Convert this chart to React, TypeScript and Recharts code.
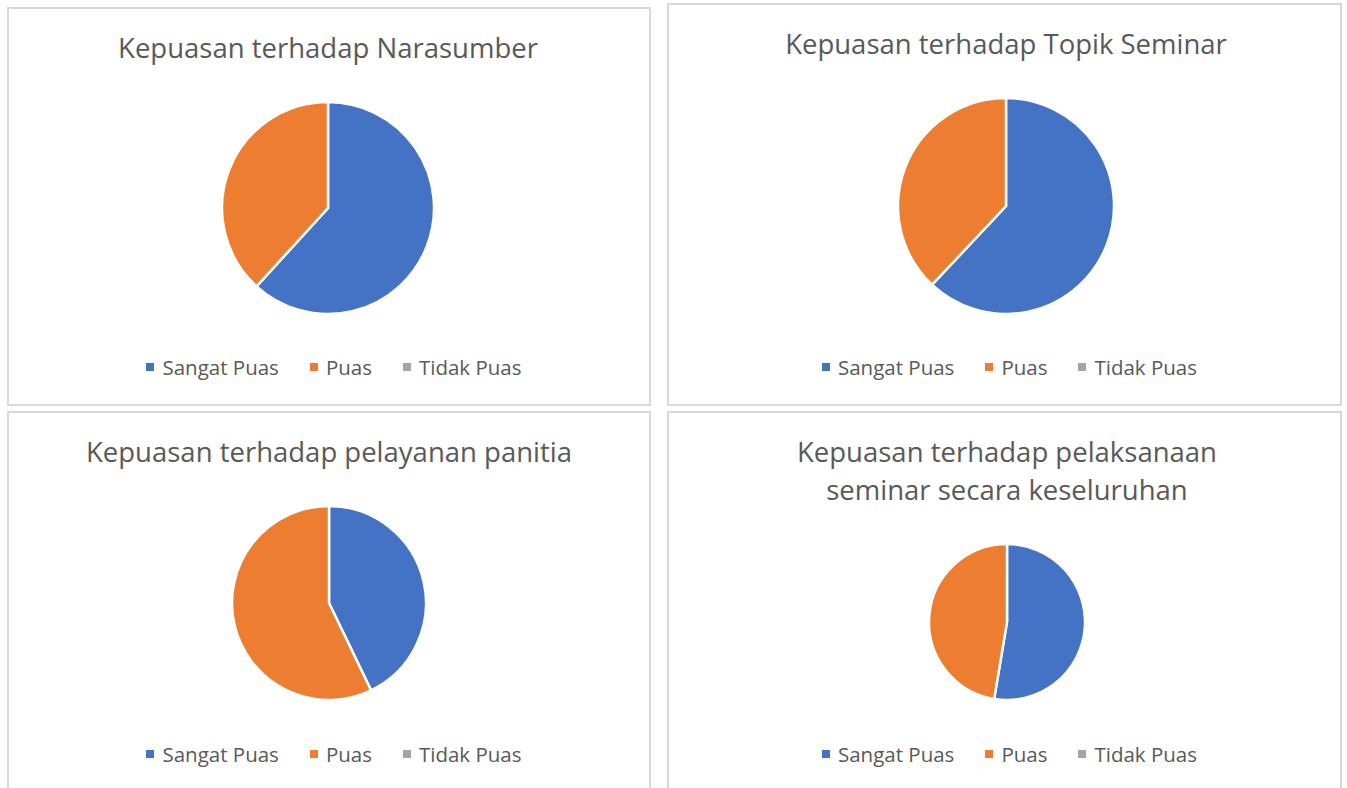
import { PieChart, Pie, Cell, Legend } from 'recharts';

const categories = ['Sangat Puas', 'Puas', 'Tidak Puas'];
const colors = ['#4472C4', '#ED7D31', '#A5A5A5'];

const narasumberValues = [21, 13, 0];
const topikValues = [31, 19, 0];
const panitiaValues = [15, 20, 0];
const pelaksanaanValues = [20, 18, 0];

const titles = [
  ['Kepuasan terhadap Narasumber'],
  ['Kepuasan terhadap Topik Seminar'],
  ['Kepuasan terhadap pelayanan panitia'],
  ['Kepuasan terhadap pelaksanaan', 'seminar secara keseluruhan'],
];

const FONT = '"Open Sans", "Noto Sans", sans-serif';
const TEXT = '#595959';

const toRows = (values: number[]) =>
  categories.map((name, i) => ({ name, value: values[i] }));

interface PanelProps {
  left: number;
  top: number;
  width: number;
  height: number;
  title: string[];
  titleTop: number;
  values: number[];
  cx: number;
  cy: number;
  r: number;
  legendTop: number;
}

const LegendRow = (props: any) => {
  // keep the series order instead of the default alphabetical one
  const items = [...(props.payload || [])].sort(
    (a: any, b: any) => categories.indexOf(a.value) - categories.indexOf(b.value)
  );
  return (
    <div
      style={{
        display: 'flex',
        justifyContent: 'center',
        fontFamily: FONT,
        fontSize: 20.5,
        color: TEXT,
        lineHeight: '26px',
        paddingLeft: 10,
      }}
    >
      {items.map((it: any, i: number) => (
        <div
          key={i}
          style={{ display: 'flex', alignItems: 'center', marginRight: i < items.length - 1 ? 31 : 0 }}
        >
          <span
            style={{ width: 8, height: 8, background: it.color, marginRight: 8, display: 'inline-block' }}
          />
          <span>{it.value}</span>
        </div>
      ))}
    </div>
  );
};

const Panel: React.FC<PanelProps> = (p) => (
  <div
    style={{
      position: 'absolute',
      left: p.left,
      top: p.top,
      width: p.width,
      height: p.height,
      boxSizing: 'border-box',
      border: '2px solid #d9d9d9',
      background: '#fff',
    }}
  >
    <div style={{ position: 'absolute', left: -2, top: -2 }}>
      <PieChart width={p.width} height={p.height} margin={{ top: 0, right: 0, bottom: 0, left: 0 }}>
        <Pie
          data={toRows(p.values)}
          dataKey='value'
          nameKey='name'
          cx={p.cx}
          cy={p.cy}
          outerRadius={p.r}
          startAngle={90}
          endAngle={-270}
          stroke='#ffffff'
          strokeWidth={2.5}
          isAnimationActive={false}
        >
          {categories.map((c, i) => (
            <Cell key={c} fill={colors[i]} />
          ))}
        </Pie>
        <Legend content={LegendRow} wrapperStyle={{ top: p.legendTop, left: 0, width: p.width }} />
      </PieChart>
    </div>
    <div
      style={{
        position: 'absolute',
        left: -2,
        top: p.titleTop - 2,
        width: p.cx * 2,
        textAlign: 'center',
        fontFamily: FONT,
        fontSize: 27.5,
        color: TEXT,
        lineHeight: '38px',
        whiteSpace: 'nowrap',
      }}
    >
      {p.title.map((t) => (
        <div key={t}>{t}</div>
      ))}
    </div>
  </div>
);

export default function App() {
  return (
    <div style={{ position: 'absolute', left: 0, top: 0, width: 1347, height: 788, background: '#fff', overflow: 'hidden' }}>
      <Panel left={7} top={7} width={644} height={399} title={titles[0]} titleTop={22} values={narasumberValues} cx={321} cy={201} r={106} legendTop={347} />
      <Panel left={667} top={3} width={675} height={403} title={titles[1]} titleTop={22} values={topikValues} cx={339} cy={203} r={108} legendTop={351} />
      <Panel left={7} top={411} width={644} height={390} title={titles[2]} titleTop={22} values={panitiaValues} cx={322} cy={192} r={97} legendTop={330} />
      <Panel left={667} top={411} width={675} height={390} title={titles[3]} titleTop={22} values={pelaksanaanValues} cx={340} cy={211} r={78} legendTop={330} />
    </div>
  );
}
